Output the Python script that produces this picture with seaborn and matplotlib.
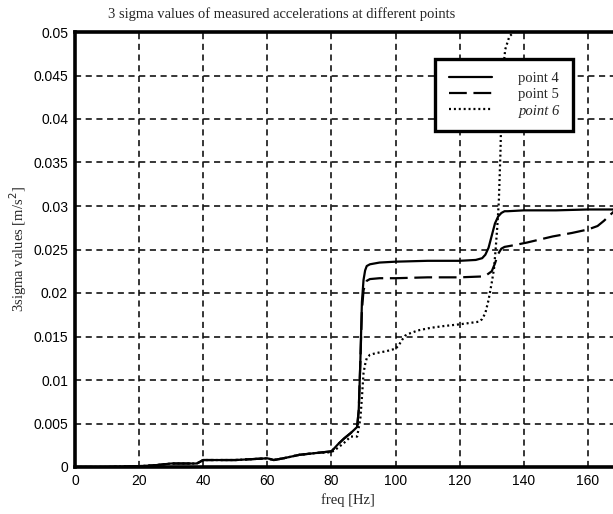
import numpy as np
import pandas as pd
import matplotlib
matplotlib.use("Agg")
import matplotlib.pyplot as plt
import seaborn as sns

# ---- data ----
freq_p4 = [0, 10, 20, 25, 30, 35, 38, 40, 50, 60, 62, 65, 70, 75, 80, 82, 84, 86, 88,
           88.5, 89, 89.5, 90, 90.5, 91, 92, 95, 100, 110, 120, 125, 127, 128, 129,
           130, 131, 132, 133, 134, 135, 140, 150, 160, 170]
val_p4 = [0, 0, 0.0001, 0.0002, 0.0004, 0.0004, 0.0004, 0.0008, 0.0008, 0.0010, 0.0008,
          0.0010, 0.0014, 0.0016, 0.0018, 0.0026, 0.0033, 0.0039, 0.0046,
          0.0065, 0.0120, 0.0190, 0.0215, 0.0226, 0.0231, 0.0233, 0.0235, 0.0236,
          0.0237, 0.0237, 0.0238, 0.0240, 0.0244, 0.0252, 0.0266, 0.0280, 0.0288,
          0.0292, 0.0294, 0.0294, 0.0295, 0.0295, 0.0296, 0.0296]

freq_p5 = [0, 10, 20, 25, 30, 35, 38, 40, 50, 60, 62, 65, 70, 75, 80, 82, 84, 86, 88,
           88.5, 89, 89.5, 90, 90.5, 91, 92, 95, 100, 110, 120, 127, 128.5, 130,
           131, 132, 133, 134, 137, 141, 149, 155, 160, 163, 165, 167, 170]
val_p5 = [0, 0, 0.0001, 0.0002, 0.0004, 0.0004, 0.0004, 0.0008, 0.0008, 0.0010, 0.0008,
          0.0010, 0.0014, 0.0016, 0.0018, 0.0026, 0.0033, 0.0039, 0.0046,
          0.0065, 0.0120, 0.0180, 0.0203, 0.0210, 0.0214, 0.0216, 0.0217, 0.0217,
          0.0218, 0.0218, 0.0219, 0.0221, 0.0225, 0.0234, 0.0245, 0.0251, 0.0253,
          0.0255, 0.0258, 0.0265, 0.0269, 0.0273, 0.0277, 0.0283, 0.0290, 0.0300]

freq_p6 = [0, 10, 20, 25, 30, 35, 38, 40, 50, 60, 62, 65, 70, 75, 80, 82, 84, 86, 88,
           89, 89.5, 90, 90.5, 91, 92, 94, 97, 100, 101, 102, 103, 104, 107, 111, 115,
           120, 126, 127, 128, 129, 130, 130.7, 131.2, 131.7, 132.2, 132.7, 133, 133.5,
           134.2, 135.5, 137, 138]
val_p6 = [0, 0, 0.0001, 0.0002, 0.0004, 0.0004, 0.0004, 0.0008, 0.0008, 0.0010, 0.0008,
          0.0010, 0.0014, 0.0016, 0.0017, 0.0022, 0.0028, 0.0035, 0.0035,
          0.0055, 0.0080, 0.0108, 0.0118, 0.0125, 0.0129, 0.0131, 0.0133, 0.0136,
          0.0140, 0.0146, 0.0151, 0.0153, 0.0157, 0.0160, 0.0162,
          0.0164, 0.0167, 0.0170, 0.0177, 0.0192, 0.0212, 0.0228, 0.0250, 0.0275,
          0.0305, 0.0360, 0.0410, 0.0455, 0.0480, 0.0495, 0.0500, 0.0505]

series_names = ["point 4", "point 5", "point 6"]
x_ticks = [0, 20, 40, 60, 80, 100, 120, 140, 160]
y_ticks = [0, 0.005, 0.01, 0.015, 0.02, 0.025, 0.03, 0.035, 0.04, 0.045, 0.05]
y_tick_labels = ["0", "0.005", "0.01", "0.015", "0.02", "0.025", "0.03", "0.035",
                 "0.04", "0.045", "0.05"]

df = pd.concat([
    pd.DataFrame({"freq": freq_p4, "val": val_p4, "series": series_names[0]}),
    pd.DataFrame({"freq": freq_p5, "val": val_p5, "series": series_names[1]}),
    pd.DataFrame({"freq": freq_p6, "val": val_p6, "series": series_names[2]}),
], ignore_index=True)

sns.set_style("white")
plt.rcParams["font.family"] = ["Liberation Sans", "DejaVu Sans"]

fig = plt.figure(figsize=(6.13, 5.14), dpi=100)
ax = fig.add_axes([75 / 613, 47 / 514, 545 / 613, 435 / 514])

LW = 1.6
sns.lineplot(data=df, x="freq", y="val", hue="series", style="series",
             palette={n: "black" for n in series_names},
             dashes={"point 4": "", "point 5": (8, 3), "point 6": (0.9, 1.3)},
             estimator=None, sort=False, linewidth=LW, ax=ax, zorder=3)

ax.set_xlim(0, 170)
ax.set_ylim(0, 0.05)
ax.set_xticks(x_ticks)
ax.set_xticklabels([str(t) for t in x_ticks])
ax.set_yticks(y_ticks)
ax.set_yticklabels(y_tick_labels)
ax.tick_params(axis="both", length=0, labelsize=10, colors="black", pad=5)

ax.grid(True, color="black", linestyle=(0, (4, 3)), linewidth=1.1)
ax.set_axisbelow(True)

for side in ["left", "bottom", "top", "right"]:
    ax.spines[side].set_visible(True)
    ax.spines[side].set_color("black")
    ax.spines[side].set_linewidth(2.6)

serif = ["Liberation Serif", "DejaVu Serif"]
ax.set_xlabel("freq [Hz]", family=serif, fontsize=10.5, labelpad=4)
ax.set_ylabel("3sigma values [m/s$^2$]", family=serif, fontsize=10.5, labelpad=3)
fig.text(282 / 613, 1 - 14 / 514, "3 sigma values of measured accelerations at different points",
         family=serif, fontsize=10.5, ha="center", va="center")

handles, labels = ax.get_legend_handles_labels()
leg = ax.legend(handles, labels, loc="upper right",
                bbox_to_anchor=((573 - 75) / 545, (467 - 59) / 435),
                borderaxespad=0, frameon=True, fancybox=False,
                prop={"family": serif, "size": 10.5},
                handlelength=3.0, handletextpad=1.8, labelspacing=0.2,
                borderpad=0.9, markerfirst=True)
leg.get_frame().set_edgecolor("black")
leg.get_frame().set_linewidth(2.4)
leg.get_frame().set_alpha(1)
for t in leg.get_texts():
    if t.get_text() == "point 6":
        t.set_style("italic")
for l in leg.get_lines():
    l.set_linewidth(LW)

fig.savefig("out.png", dpi=100)
